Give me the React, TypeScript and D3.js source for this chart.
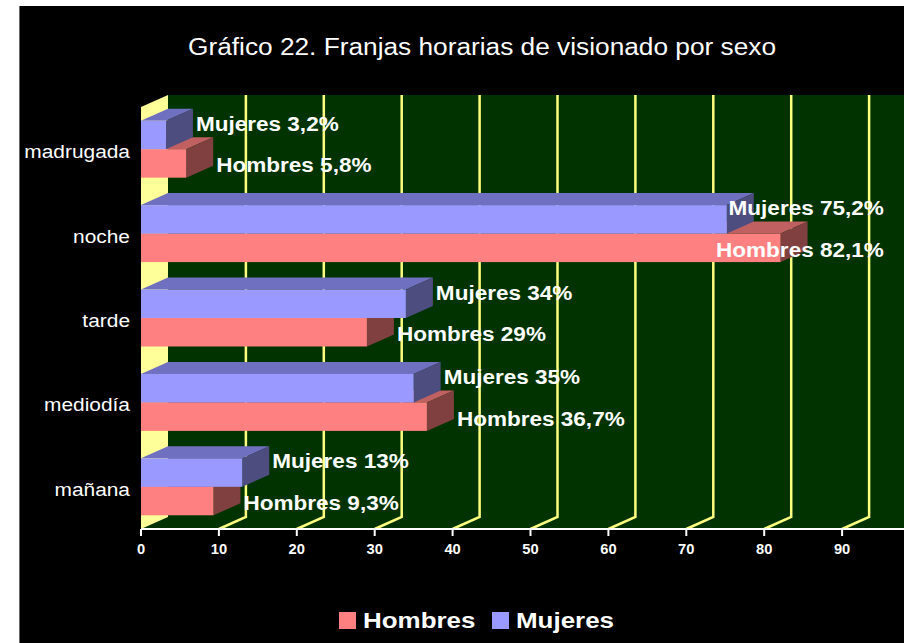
import * as d3 from "d3";
import { useEffect, useRef } from "react";

const categories = ["madrugada", "noche", "tarde", "mediodía", "mañana"];
const hombres = [5.8, 82.1, 29, 36.7, 9.3];
const mujeres = [3.2, 75.2, 34, 35, 13];
const seriesNames = ["Mujeres", "Hombres"];
const ticks = [0, 10, 20, 30, 40, 50, 60, 70, 80, 90];
const title = "Gráfico 22. Franjas horarias de visionado por sexo";

const W = 904;
const H = 643;

export default function App() {
	const ref = useRef(null);

	useEffect(() => {
		const svg = d3.select(ref.current);
		svg.selectAll("*").remove();

		const font = "'Liberation Sans', Arial, sans-serif";
		const dx = 27, dy = 12; // 3d depth
		const left = 141, right = 920, top = 107, bottom = 529;

		const x = d3.scaleLinear().domain([0, 100]).range([left, right]);
		const y = d3.scaleBand().domain(categories).range([top, bottom]).paddingInner(0.325).paddingOuter(0.1625);
		const ys = d3.scaleBand().domain(seriesNames).range([0, y.bandwidth()]);

		const colors = {
			Hombres: { front: "#FF8080", top: "#C06060", side: "#804040" },
			Mujeres: { front: "#9999FF", top: "#7070C0", side: "#4D4D80" },
		};

		// background
		svg.append("rect").attr("width", W).attr("height", H).attr("fill", "#fff");
		svg.append("rect").attr("x", 19).attr("y", 6).attr("width", W - 19).attr("height", H - 6)
			.attr("fill", "#000");
		svg.append("line").attr("x1", 19.5).attr("x2", 19.5).attr("y1", 6).attr("y2", H)
			.attr("stroke", "#666").attr("stroke-width", 1);

		svg.append("text")
			.attr("x", 482).attr("y", 55)
			.attr("text-anchor", "middle")
			.attr("fill", "#fff")
			.attr("font-family", font)
			.attr("font-size", 23)
			.attr("textLength", 588)
			.attr("lengthAdjust", "spacingAndGlyphs")
			.text(title);

		// back wall
		svg.append("rect")
			.attr("x", left + dx).attr("y", top - dy)
			.attr("width", W - left - dx).attr("height", bottom - top)
			.attr("fill", "#003300");
		// floor
		svg.append("polygon")
			.attr("points", [[left, bottom], [left + dx, bottom - dy], [W, bottom - dy], [W, bottom]].join(" "))
			.attr("fill", "#003300");

		// gridlines
		svg.selectAll("path.grid")
			.data(ticks.filter((t) => t > 0).concat([100]))
			.enter()
			.append("path")
			.attr("class", "grid")
			.attr("d", (d) => `M${x(d) + dx},${top - dy}L${x(d) + dx},${bottom - dy}L${x(d)},${bottom}`)
			.attr("fill", "none")
			.attr("stroke", "#FFFF80")
			.attr("stroke-width", 2.5);

		// left wall
		svg.append("polygon")
			.attr("points", [[left, top], [left + dx, top - dy], [left + dx, bottom - dy], [left, bottom]].join(" "))
			.attr("fill", "#FFFF99");

		// bars, bottom category first, lower bar first
		const bars = [];
		categories.forEach((c, i) => {
			bars.push({ cat: c, name: "Hombres", value: hombres[i] });
			bars.push({ cat: c, name: "Mujeres", value: mujeres[i] });
		});
		bars.reverse();
		// keep Hombres before Mujeres inside each group
		const ordered = [];
		for (let i = 0; i < bars.length; i += 2) ordered.push(bars[i + 1], bars[i]);

		const g = svg.append("g");
		ordered.forEach((b) => {
			const x0 = x(0), x1 = x(b.value);
			const y0 = y(b.cat) + ys(b.name), y1 = y0 + ys.bandwidth();
			const col = colors[b.name];
			g.append("polygon")
				.attr("points", [[x0, y0], [x0 + dx, y0 - dy], [x1 + dx, y0 - dy], [x1, y0]].join(" "))
				.attr("fill", col.top);
			g.append("polygon")
				.attr("points", [[x1, y0], [x1 + dx, y0 - dy], [x1 + dx, y1 - dy], [x1, y1]].join(" "))
				.attr("fill", col.side);
			g.append("rect")
				.attr("x", x0).attr("y", y0)
				.attr("width", x1 - x0).attr("height", y1 - y0)
				.attr("fill", col.front);
		});

		// axis
		svg.append("line")
			.attr("x1", left).attr("x2", W).attr("y1", bottom).attr("y2", bottom)
			.attr("stroke", "#fff").attr("stroke-width", 2);
		svg.selectAll("line.tick")
			.data(ticks)
			.enter()
			.append("line")
			.attr("class", "tick")
			.attr("x1", (d) => x(d)).attr("x2", (d) => x(d))
			.attr("y1", bottom).attr("y2", bottom + 7)
			.attr("stroke", "#fff").attr("stroke-width", 2);
		svg.selectAll("text.tick")
			.data(ticks)
			.enter()
			.append("text")
			.attr("class", "tick")
			.attr("transform", (d) => `translate(${x(d)},${bottom + 25}) scale(1.05,1)`)
			.attr("text-anchor", "middle")
			.attr("fill", "#fff")
			.attr("font-family", font)
			.attr("font-weight", "bold")
			.attr("font-size", 14)
			.text((d) => d);

		// category labels
		svg.selectAll("text.cat")
			.data(categories)
			.enter()
			.append("text")
			.attr("class", "cat")
			.attr("transform", (d) => `translate(130,${y(d) + y.bandwidth() / 2 + 9}) scale(1.1,1)`)
			.attr("text-anchor", "end")
			.attr("fill", "#fff")
			.attr("font-family", font)
			.attr("font-size", 19)
			.text((d) => d);

		// data labels
		const sx = 1.1;
		const fmt = (v) => String(v).replace(".", ",");
		ordered.forEach((b) => {
			const y0 = y(b.cat) + ys(b.name);
			const ty = b.name === "Mujeres" ? y0 + 10 : y0 + ys.bandwidth() / 2 + 9;
			const t = svg.append("text")
				.attr("fill", "#fff")
				.attr("font-family", font)
				.attr("font-weight", "bold")
				.attr("font-size", 20.5)
				.text(`${b.name} ${fmt(b.value)}%`);
			const w = t.node().getComputedTextLength() * sx;
			let tx = x(b.value) + 30;
			if (tx + w > 884) tx = 884 - w;
			t.attr("transform", `translate(${tx},${ty}) scale(${sx},1)`);
		});

		// legend
		const legend = [
			{ name: "Hombres", color: colors.Hombres.front, x: 339 },
			{ name: "Mujeres", color: colors.Mujeres.front, x: 492 },
		];
		legend.forEach((l) => {
			svg.append("rect").attr("x", l.x).attr("y", 612).attr("width", 17).attr("height", 17)
				.attr("fill", l.color);
			svg.append("text")
				.attr("transform", `translate(${l.x + 24},628) scale(1.18,1)`)
				.attr("fill", "#fff")
				.attr("font-family", font)
				.attr("font-weight", "bold")
				.attr("font-size", 22)
				.text(l.name);
		});
	}, []);

	return (
		<svg
			ref={ref}
			width={W}
			height={H}
			style={{ position: "absolute", left: 0, top: 0, display: "block" }}
		/>
	);
}
